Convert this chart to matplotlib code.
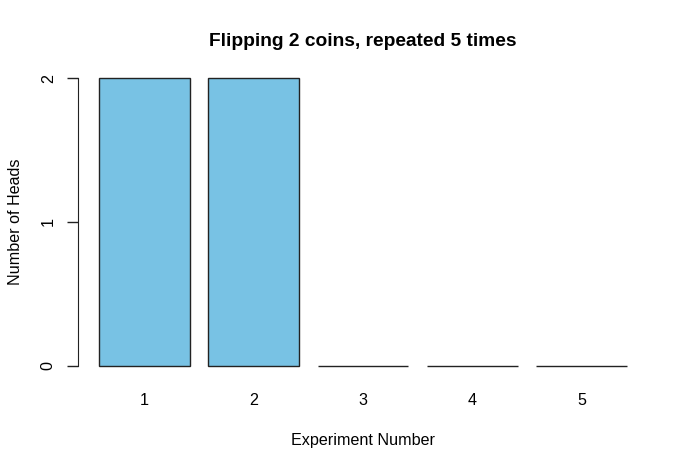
import matplotlib
matplotlib.use('Agg')
import matplotlib.pyplot as plt

plt.rcParams['font.family'] = ['Liberation Sans', 'DejaVu Sans']

# data
experiments = ['1', '2', '3', '4', '5']
heads = [2, 2, 0, 0, 0]
yticks = [0, 1, 2]

# R barplot style positions: width 1, space 0.2
centers = [0.7 + 1.2 * i for i in range(len(heads))]

fig = plt.figure(figsize=(6.89, 4.67), dpi=100)
ax = fig.add_axes([78 / 689, (467 - 377.5) / 467, 570 / 689, 311 / 467])

ax.bar(centers, heads, width=1.0, color='#78c2e4', edgecolor='#222222', linewidth=1.0)

ax.set_xlim(-0.032, 6.232)
ax.set_ylim(-0.08, 2.08)

for s in ['top', 'right', 'bottom']:
    ax.spines[s].set_visible(False)
ax.spines['left'].set_bounds(0, 2)
ax.spines['left'].set_color('#222222')

ax.set_yticks(yticks)
ax.set_yticklabels([str(v) for v in yticks], rotation=90, va='center', fontsize=11.6)
ax.tick_params(axis='y', length=8, width=1, pad=8, color='#222222')

ax.set_xticks(centers)
ax.set_xticklabels(experiments, fontsize=11.6)
ax.tick_params(axis='x', length=0, pad=11)

ax.set_xlabel('Experiment Number', fontsize=11.6, labelpad=18)
ax.set_ylabel('Number of Heads', fontsize=11.6, labelpad=13)
fig.text(363 / 689, 1 - 42 / 467, 'Flipping 2 coins, repeated 5 times',
         ha='center', va='center', fontsize=13.8, fontweight='bold')

fig.savefig('out.png', dpi=100)
